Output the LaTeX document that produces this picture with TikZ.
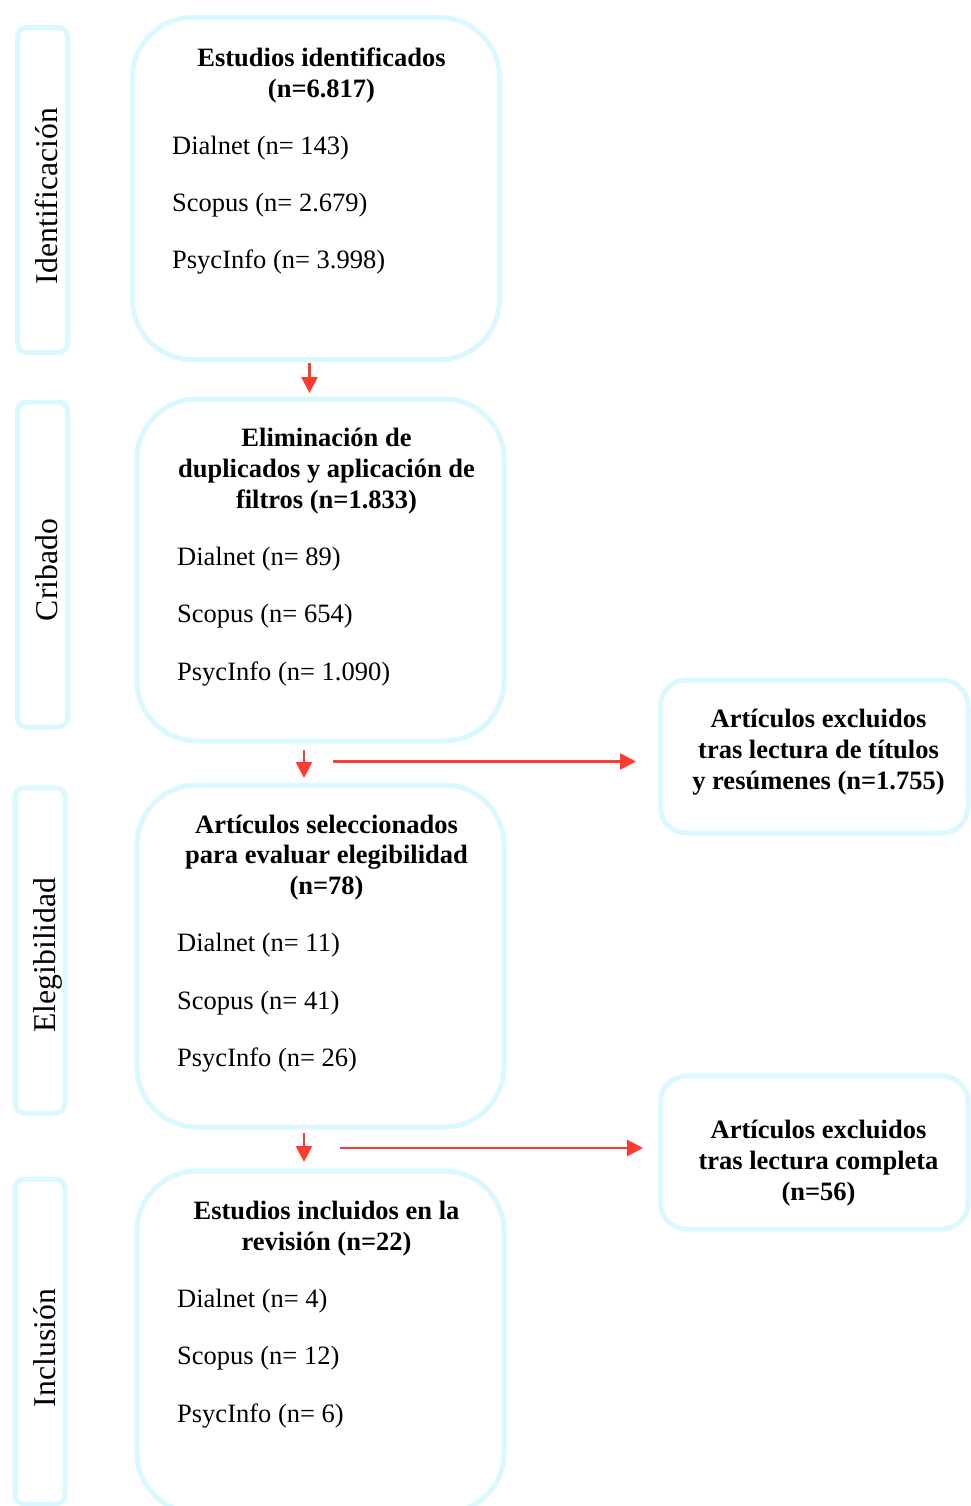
\documentclass[tikz,border=0pt]{standalone}
\usepackage{fontspec}
\setmainfont{Liberation Serif}
\usetikzlibrary{arrows.meta}
\definecolor{boxcyan}{RGB}{218,248,253}
\definecolor{arrred}{RGB}{255,59,48}
\tikzset{
  mainbox/.style={draw=boxcyan, line width=5pt, rounded corners=60pt, minimum width=367pt, minimum height=342pt, inner sep=0pt},
  sidebox/.style={draw=boxcyan, line width=5pt, rounded corners=9pt, minimum width=50pt, minimum height=325pt, inner sep=0pt},
  exbox/.style={draw=boxcyan, line width=5pt, rounded corners=26pt, minimum width=307.5pt, minimum height=153pt, inner sep=0pt},
  ttl/.style={anchor=base, inner sep=0pt, yshift=-1.5pt, font=\fontsize{26.5}{31}\selectfont\bfseries},
  itm/.style={anchor=base west, inner sep=0pt, yshift=-1.5pt, font=\fontsize{26.5}{31}\selectfont},
  side/.style={anchor=base, rotate=90, inner sep=0pt, font=\fontsize{31.7}{36}\selectfont},
  arr/.style={draw=arrred, line width=2.5pt, -{Triangle[length=16pt,width=16pt]}},
}
\begin{document}
\begin{tikzpicture}[x=1pt,y=-1pt]
\useasboundingbox (0,0) rectangle (971,1506);
\clip (0,0) rectangle (971,1506);
% side boxes
\node[sidebox] (s1) at (42.5,190) {};
\node[sidebox] (s2) at (42.5,564.5) {};
\node[sidebox] (s3) at (40,950.5) {};
\node[sidebox] (s4) at (40,1341.5) {};
\node[side] (l1) at (57,196) {Identificación};
\node[side] (l2) at (57,570) {Cribado};
\node[side] (l3) at (55,955) {Elegibilidad};
\node[side] (l4) at (55,1348) {Inclusión};
% main boxes
\node[mainbox] (b1) at (316,188.5) {};
\node[mainbox] (b2) at (320.5,570) {};
\node[mainbox] (b3) at (320.5,956) {};
\node[mainbox] (b4) at (320.5,1342) {};
% excluded boxes
\node[exbox] (e1) at (814.25,756.5) {};
\node[exbox] (e2) at (814.25,1152.5) {};
% box 1 text
\node[ttl] (t1a) at (321.5,65) {Estudios identificados};
\node[ttl] (t1b) at (321.5,96) {(n=6.817)};
\node[itm] (i1a) at (172,153) {Dialnet (n= 143)};
\node[itm] (i1b) at (172,210) {Scopus (n= 2.679)};
\node[itm] (i1c) at (172,267) {PsycInfo (n= 3.998)};
% box 2 text
\node[ttl] (t2a) at (326.5,445) {Eliminación de};
\node[ttl] (t2b) at (326.5,476) {duplicados y aplicación de};
\node[ttl] (t2c) at (326.5,507) {filtros (n=1.833)};
\node[itm] (i2a) at (177,564) {Dialnet (n= 89)};
\node[itm] (i2b) at (177,621) {Scopus (n= 654)};
\node[itm] (i2c) at (177,679) {PsycInfo (n= 1.090)};
% box 3 text
\node[ttl] (t3a) at (326.5,832) {Artículos seleccionados};
\node[ttl] (t3b) at (326.5,862) {para evaluar elegibilidad};
\node[ttl] (t3c) at (326.5,893) {(n=78)};
\node[itm] (i3a) at (177,950) {Dialnet (n= 11)};
\node[itm] (i3b) at (177,1008) {Scopus (n= 41)};
\node[itm] (i3c) at (177,1065) {PsycInfo (n= 26)};
% box 4 text
\node[ttl] (t4a) at (326.5,1218) {Estudios incluidos en la};
\node[ttl] (t4b) at (326.5,1249) {revisión (n=22)};
\node[itm] (i4a) at (177,1306) {Dialnet (n= 4)};
\node[itm] (i4b) at (177,1363) {Scopus (n= 12)};
\node[itm] (i4c) at (177,1421) {PsycInfo (n= 6)};
% excluded texts
\node[ttl] (x1a) at (818.5,726) {Artículos excluidos};
\node[ttl] (x1b) at (818.5,757) {tras lectura de títulos};
\node[ttl] (x1c) at (818.5,788) {y resúmenes (n=1.755)};
\node[ttl] (x2a) at (818.5,1137) {Artículos excluidos};
\node[ttl] (x2b) at (818.5,1168) {tras lectura completa};
\node[ttl] (x2c) at (818.5,1199) {(n=56)};
% arrows
\coordinate (a1s) at (309.5,363);
\coordinate (a1e) at (309.5,393);
\coordinate (a2s) at (304,750);
\coordinate (a2e) at (304,778);
\coordinate (h1s) at (333,761.5);
\coordinate (h1e) at (636,761.5);
\coordinate (a3s) at (304,1133);
\coordinate (a3e) at (304,1162);
\coordinate (h2s) at (340,1148);
\coordinate (h2e) at (643,1148);
\draw[arr] (a1s) -- (a1e);
\draw[arr] (a2s) -- (a2e);
\draw[arr] (h1s) -- (h1e);
\draw[arr] (a3s) -- (a3e);
\draw[arr] (h2s) -- (h2e);
\end{tikzpicture}
\end{document}
